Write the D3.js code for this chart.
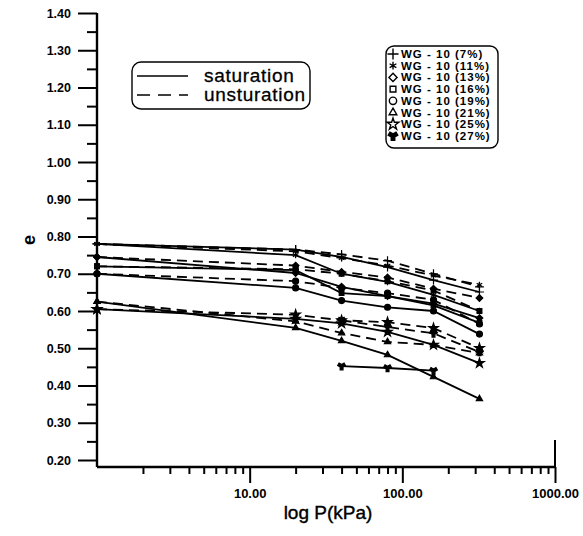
<!DOCTYPE html>
<html>
<head>
<meta charset="utf-8">
<script src="https://cdn.jsdelivr.net/npm/d3@7"></script>
<style>
  body { margin: 0; background: #fff; }
  svg { display: block; font-family: "Liberation Sans", Arial, sans-serif; }
</style>
</head>
<body>
<div id="chart"></div>
<script>
// Consolidation curves e - log P, saturated vs unsaturated samples

// Loading steps (kPa)
const pressures = [1, 20, 40, 80, 160, 320];

// Sample names (legend order)
const samples = [
  "WG - 10 (7%)", "WG - 10 (11%)", "WG - 10 (13%)", "WG - 10 (16%)",
  "WG - 10 (19%)", "WG - 10 (21%)", "WG - 10 (25%)", "WG - 10 (27%)"
];

// Void ratio e, saturated samples (solid lines)
const satSeries = [
  [0.780, 0.765, 0.745, 0.718, 0.683, 0.651],
  [0.780, 0.750, 0.700, 0.678, 0.643, 0.600],
  [0.745, 0.702, 0.665, 0.640, 0.620, 0.581],
  [0.720, 0.710, 0.648, 0.640, 0.615, 0.568],
  [0.700, 0.662, 0.628, 0.610, 0.600, 0.538],
  [0.625, 0.555, 0.520, 0.482, 0.423, 0.364],
  [0.605, 0.579, 0.567, 0.544, 0.509, 0.460],
  [null, null, 0.452, 0.447, 0.440, null]
];

// Void ratio e, unsaturated samples (dashed lines)
const unsatSeries = [
  [0.780, 0.765, 0.752, 0.735, 0.700, 0.665],
  [0.780, 0.760, 0.742, 0.722, 0.695, 0.670],
  [0.745, 0.722, 0.705, 0.690, 0.660, 0.635],
  [0.720, 0.712, 0.700, 0.680, 0.655, 0.600],
  [0.700, 0.680, 0.662, 0.648, 0.630, 0.565],
  [0.625, 0.572, 0.541, 0.517, 0.509, 0.487],
  [0.605, 0.590, 0.575, 0.570, 0.554, 0.500],
  [null, null, 0.575, 0.557, 0.540, 0.490]
];

// Axis ticks
const yMajorTicks = [0.2, 0.3, 0.4, 0.5, 0.6, 0.7, 0.8, 0.9, 1.0, 1.1, 1.2, 1.3, 1.4];
const yMinorTicks = [0.25, 0.35, 0.45, 0.55, 0.65, 0.75, 0.85, 0.95, 1.05, 1.15, 1.25, 1.35];
const xMajorTicks = [10, 100, 1000];
const xMinorTicks = [2, 3, 4, 5, 6, 7, 8, 9, 20, 30, 40, 50, 60, 70, 80, 90,
  200, 300, 400, 500, 600, 700, 800, 900];

const legendLines = ["saturation", "unsturation"];

// Marker symbol for each sample
const symbolTypes = [
  d3.symbolPlus || d3.symbolCross,
  d3.symbolAsterisk || d3.symbolCross,
  d3.symbolDiamond2 || d3.symbolDiamond,
  d3.symbolSquare2 || d3.symbolSquare,
  d3.symbolCircle,
  d3.symbolTriangle2 || d3.symbolTriangle,
  d3.symbolStar,
  d3.symbolWye
];

const width = 583;
const height = 536;

const svg = d3.select("#chart")
  .append("svg")
  .attr("width", width)
  .attr("height", height);

// Scales
const x = d3.scaleLog().domain([1, 1000]).range([97, 555]);
const y = d3.scaleLinear().domain([0.2, 1.4]).range([460, 13]);
const axisY = 467;

// Y axis: minor then major ticks
svg.append("g")
  .attr("transform", "translate(97,0)")
  .call(d3.axisLeft(y).tickValues(yMinorTicks).tickSize(10).tickFormat(""))
  .call(g => g.select(".domain").remove());

svg.append("g")
  .attr("transform", "translate(97,0)")
  .call(d3.axisLeft(y).tickValues(yMajorTicks).tickSize(19).tickPadding(7)
    .tickFormat(d3.format(".2f")))
  .call(g => g.select(".domain").remove())
  .call(g => g.selectAll("text")
    .style("font-size", "12.5px").style("font-weight", "bold").attr("fill", "#000"));

// X axis: minor then major ticks
svg.append("g")
  .attr("transform", `translate(0,${axisY})`)
  .call(d3.axisBottom(x).tickValues(xMinorTicks).tickSize(7).tickFormat(""))
  .call(g => g.select(".domain").remove());

svg.append("g")
  .attr("transform", `translate(0,${axisY})`)
  .call(d3.axisBottom(x).tickValues(xMajorTicks).tickSize(16).tickPadding(6)
    .tickFormat(d3.format(".2f")))
  .call(g => g.select(".domain").remove())
  .call(g => g.selectAll("text")
    .style("font-size", "13px").style("font-weight", "bold").attr("fill", "#000"));

svg.selectAll(".tick line").attr("stroke", "#000").attr("stroke-width", 2);

// Axis lines
svg.append("line")
  .attr("x1", 97).attr("x2", 97).attr("y1", 13).attr("y2", axisY)
  .attr("stroke", "#000").attr("stroke-width", 2.4);
svg.append("line")
  .attr("x1", 97).attr("x2", 555).attr("y1", axisY).attr("y2", axisY)
  .attr("stroke", "#000").attr("stroke-width", 2.4);
svg.append("line")
  .attr("x1", x(1000)).attr("x2", x(1000)).attr("y1", 440).attr("y2", axisY)
  .attr("stroke", "#000").attr("stroke-width", 2);

// Axis titles
svg.append("text")
  .attr("x", 328).attr("y", 519)
  .attr("text-anchor", "middle")
  .style("font-size", "19px")
  .style("stroke", "#000").style("stroke-width", 0.4)
  .text("log P(kPa)");

svg.append("text")
  .attr("transform", "translate(35,240) rotate(-90)")
  .attr("text-anchor", "middle")
  .style("font-size", "18px")
  .style("font-weight", "bold")
  .text("e");

// Data lines
const line = d3.line()
  .defined(d => d.e !== null)
  .x(d => x(d.p))
  .y(d => y(d.e));

function toPoints(values) {
  return pressures.map((p, i) => ({ p: p, e: values[i] }));
}

const plot = svg.append("g");

unsatSeries.forEach((values, i) => {
  plot.append("path")
    .datum(toPoints(values))
    .attr("fill", "none")
    .attr("stroke", "#000")
    .attr("stroke-width", 1.8)
    .attr("stroke-dasharray", "10,6")
    .attr("d", line);
});

satSeries.forEach((values, i) => {
  plot.append("path")
    .datum(toPoints(values))
    .attr("fill", "none")
    .attr("stroke", "#000")
    .attr("stroke-width", 1.8)
    .attr("d", line);
});

// Markers
[satSeries, unsatSeries].forEach(group => {
  group.forEach((values, i) => {
    plot.selectAll(null)
      .data(toPoints(values).filter(d => d.e !== null))
      .join("path")
      .attr("transform", d => `translate(${x(d.p)},${y(d.e)})`)
      .attr("d", d3.symbol().type(symbolTypes[i]).size(28))
      .attr("fill", "#000")
      .attr("stroke", "#000")
      .attr("stroke-width", 1.2);
  });
});

// Line style legend
const lg1 = svg.append("g");
lg1.append("rect")
  .attr("x", 132).attr("y", 62).attr("width", 178).attr("height", 47)
  .attr("rx", 9)
  .attr("fill", "#fff").attr("stroke", "#000").attr("stroke-width", 1.4);

legendLines.forEach((name, i) => {
  const ly = 76 + i * 19;
  lg1.append("line")
    .attr("x1", 137).attr("x2", 188).attr("y1", ly).attr("y2", ly)
    .attr("stroke", "#000").attr("stroke-width", 1.3)
    .attr("stroke-dasharray", i === 1 ? "13,8" : null);
  lg1.append("text")
    .attr("x", 204).attr("y", ly + 6)
    .style("font-size", "19px")
    .style("letter-spacing", "0.7px")
    .style("stroke", "#000").style("stroke-width", 0.3)
    .text(name);
});

// Sample legend
const lg2 = svg.append("g");
lg2.append("rect")
  .attr("x", 386).attr("y", 46).attr("width", 112).attr("height", 102)
  .attr("rx", 8)
  .attr("fill", "#fff").attr("stroke", "#000").attr("stroke-width", 1.4);

samples.forEach((name, i) => {
  const ly = 54 + i * 11.7;
  lg2.append("path")
    .attr("transform", `translate(393,${ly})`)
    .attr("d", d3.symbol().type(symbolTypes[i]).size(42))
    .attr("fill", i === 0 || i === 1 || i === 7 ? "#000" : "none")
    .attr("stroke", "#000")
    .attr("stroke-width", 1.4);
  lg2.append("text")
    .attr("x", 401).attr("y", ly + 4)
    .style("font-size", "11.5px")
    .style("font-weight", "bold")
    .style("letter-spacing", "1px")
    .text(name);
});
</script>
</body>
</html>
